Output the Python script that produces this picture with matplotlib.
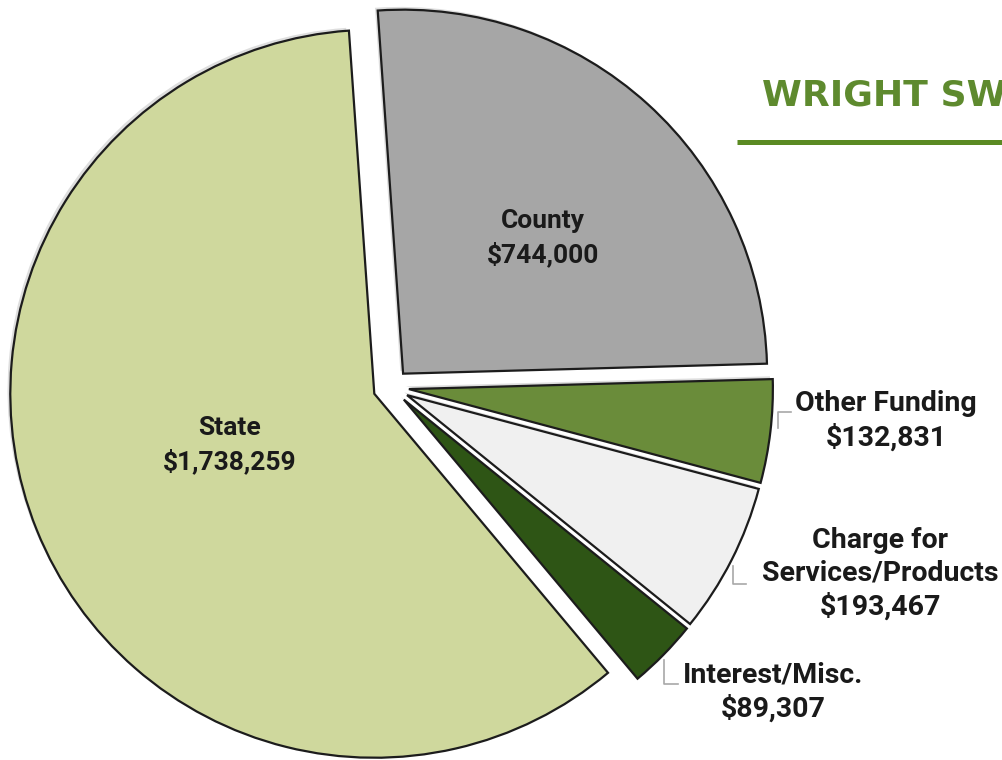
"""Revenue pie chart: exploded slices, cropped like the original slide."""

import matplotlib.pyplot as plt
from matplotlib import patheffects

# data
CATEGORIES = ["County", "Other Funding", "Charge for Services/Products", "Interest/Misc.", "State"]
VALUES = [744000, 132831, 193467, 89307, 1738259]
COLORS = ["#a6a6a6", "#6a8c3a", "#f0f0f0", "#2e5515", "#cfd89d"]

TITLE = "WRIGHT SW"
TITLE_GREEN = "#5e8a2e"

W, H = 1003, 760
CENTER = (391, H - 387)   # pixel coords, y up
RADIUS = 364
EXPLODE = 18


def money(v: int) -> str:
    return f"${v:,}"


fig = plt.figure(figsize=(W / 100, H / 100), dpi=100)
ax = fig.add_axes([0, 0, 1, 1])

wedges, _ = ax.pie(
    VALUES,
    colors=COLORS,
    center=CENTER,
    radius=RADIUS,
    startangle=94,
    counterclock=False,
    explode=[EXPLODE] * len(VALUES),
    wedgeprops=dict(edgecolor="#1c1c1c", linewidth=1.6),
)
for w in wedges:
    w.set_path_effects([
        patheffects.SimplePatchShadow(offset=(-2, 2), shadow_rgbFace="#c8c8c8", alpha=0.6),
        patheffects.Normal(),
    ])
ax.set_xlim(0, W)
ax.set_ylim(0, H)
ax.set_aspect("equal")
ax.axis("off")

inner = dict(family=["Roboto", "DejaVu Sans"], fontweight="bold", fontsize=19, color="#1a1a1a",
             ha="center", va="center", linespacing=1.42)
outer = dict(inner, fontsize=20.5, linespacing=1.27)

# labels (pixel positions, y measured from the top)
ax.text(543, H - 238, f"{CATEGORIES[0]}\n{money(VALUES[0])}", **inner)
ax.text(230, H - 445, f"{CATEGORIES[4]}\n{money(VALUES[4])}", **inner)
ax.text(886, H - 421, f"{CATEGORIES[1]}\n{money(VALUES[1])}", **outer)
ax.text(880, H - 574, "Charge for\nServices/Products\n" + money(VALUES[2]), **outer)
ax.text(773, H - 692, f"{CATEGORIES[3]}\n{money(VALUES[3])}", **outer)

# leader brackets
lead = dict(color="#a8a8a8", linewidth=1.2)
ax.plot([778, 778, 791], [H - 428, H - 412, H - 412], **lead)
ax.plot([733, 733, 746], [H - 566, H - 584, H - 584], **lead)
ax.plot([664, 664, 678], [H - 660, H - 684, H - 684], **lead)

# title strip (cropped at the right edge, as on the slide)
fig.text(762, H - 95, TITLE, transform=None, fontsize=26, fontweight="bold",
         family=["DejaVu Sans"], color=TITLE_GREEN, va="center", ha="left")
ax.plot([737, W], [H - 142, H - 142], color="#5a8a22", linewidth=3.6, solid_capstyle="butt")

fig.savefig("out.png", dpi=100)
